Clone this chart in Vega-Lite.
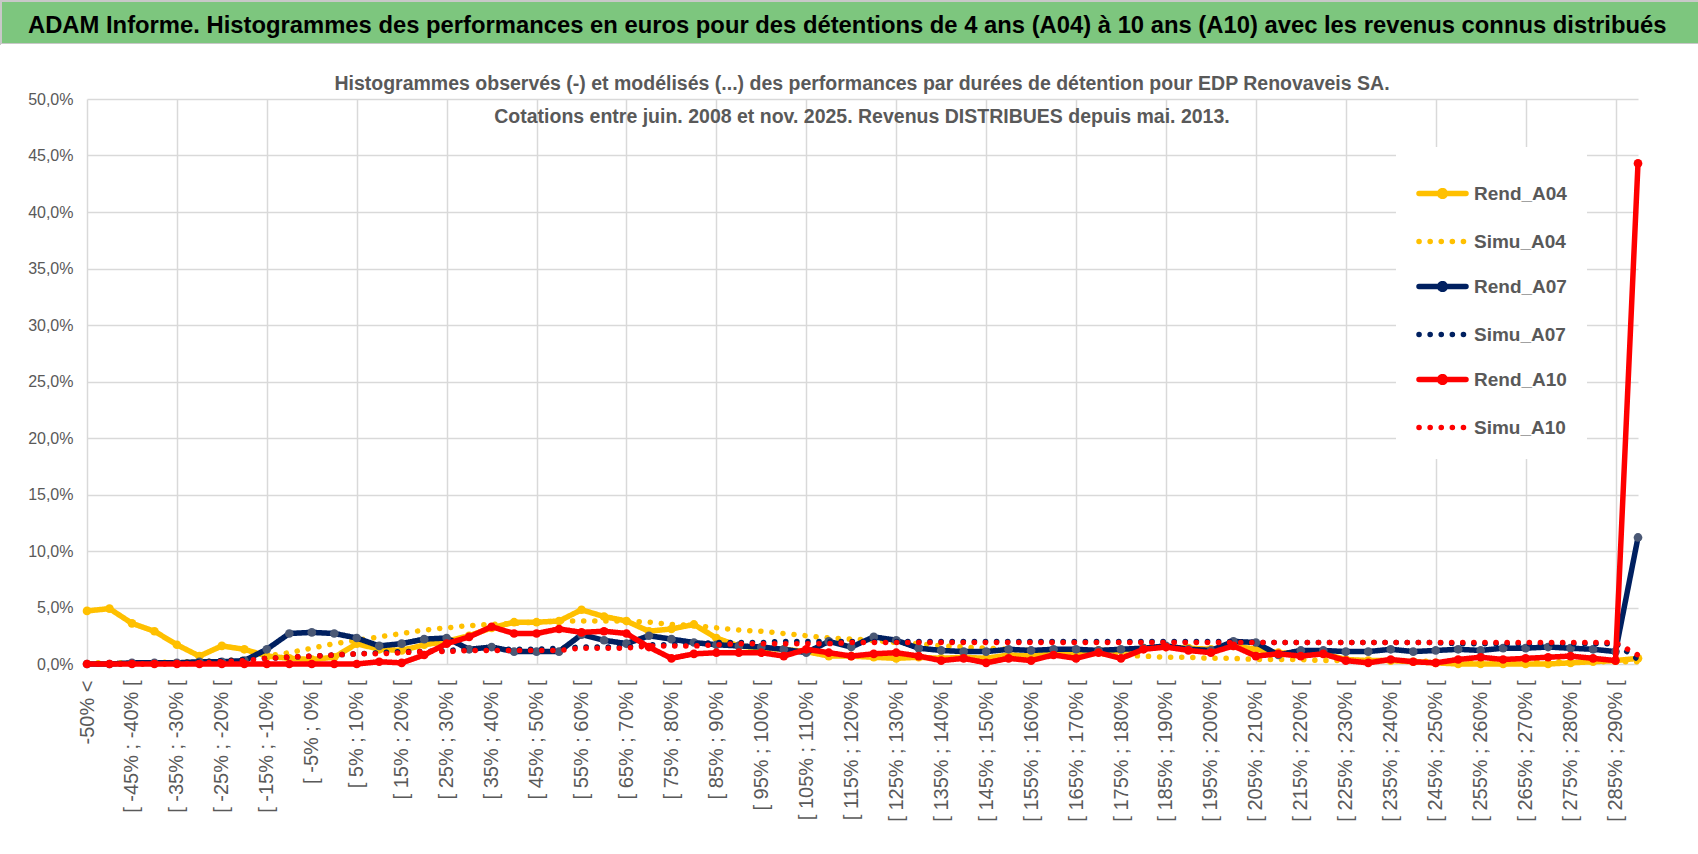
{
  "$schema": "https://vega.github.io/schema/vega-lite/v6.json",
  "background": "white",
  "padding": {"left": 0, "top": 0, "right": 0, "bottom": 49},
  "spacing": 0,
  "bounds": "flush",
  "vconcat": [
    {
      "width": 1698,
      "height": 43,
      "view": {"fill": "#7DC67E", "stroke": "#C8C8C8", "strokeWidth": 2},
      "title": {
        "text": "ADAM Informe. Histogrammes des performances en euros pour des détentions de 4 ans (A04) à 10 ans (A10) avec les revenus connus distribués",
        "anchor": "start", "frame": "group", "dx": 27, "offset": -37,
        "fontSize": 23.8, "fontWeight": "bold", "color": "#000000"
      },
      "data": {"values": []},
      "mark": "rect"
    },
    {
      "width": 1698,
      "height": 675,
      "view": {"fill": "white", "stroke": null},
      "title": {
        "text": [
          "Histogrammes observés (-) et modélisés (...) des performances par durées de détention pour EDP Renovaveis SA.",
          "Cotations entre juin. 2008 et nov. 2025. Revenus DISTRIBUES depuis mai. 2013."
        ],
        "anchor": "middle", "frame": "group", "offset": -83, "dx": 12,
        "fontSize": 19.5, "fontWeight": "bold", "color": "#595959", "lineHeight": 33
      },
      "data": {
        "values": [
          {"c":"-50% <","s":"Rend_A04","v":4.7},{"c":"[ -50% ; -45% [","s":"Rend_A04","v":4.9},{"c":"[ -45% ; -40% [","s":"Rend_A04","v":3.6},{"c":"[ -40% ; -35% [","s":"Rend_A04","v":2.9},{"c":"[ -35% ; -30% [","s":"Rend_A04","v":1.7},{"c":"[ -30% ; -25% [","s":"Rend_A04","v":0.7},{"c":"[ -25% ; -20% [","s":"Rend_A04","v":1.6},{"c":"[ -20% ; -15% [","s":"Rend_A04","v":1.3},{"c":"[ -15% ; -10% [","s":"Rend_A04","v":0.7},{"c":"[ -10% ; -5% [","s":"Rend_A04","v":0.5},
          {"c":"[ -5% ; 0% [","s":"Rend_A04","v":0.4},{"c":"[ 0% ; 5% [","s":"Rend_A04","v":0.6},{"c":"[ 5% ; 10% [","s":"Rend_A04","v":1.8},{"c":"[ 10% ; 15% [","s":"Rend_A04","v":1.3},{"c":"[ 15% ; 20% [","s":"Rend_A04","v":1.2},{"c":"[ 20% ; 25% [","s":"Rend_A04","v":1.7},{"c":"[ 25% ; 30% [","s":"Rend_A04","v":2.0},{"c":"[ 30% ; 35% [","s":"Rend_A04","v":2.5},{"c":"[ 35% ; 40% [","s":"Rend_A04","v":3.2},{"c":"[ 40% ; 45% [","s":"Rend_A04","v":3.7},
          {"c":"[ 45% ; 50% [","s":"Rend_A04","v":3.7},{"c":"[ 50% ; 55% [","s":"Rend_A04","v":3.8},{"c":"[ 55% ; 60% [","s":"Rend_A04","v":4.8},{"c":"[ 60% ; 65% [","s":"Rend_A04","v":4.2},{"c":"[ 65% ; 70% [","s":"Rend_A04","v":3.8},{"c":"[ 70% ; 75% [","s":"Rend_A04","v":2.9},{"c":"[ 75% ; 80% [","s":"Rend_A04","v":3.1},{"c":"[ 80% ; 85% [","s":"Rend_A04","v":3.5},{"c":"[ 85% ; 90% [","s":"Rend_A04","v":2.3},{"c":"[ 90% ; 95% [","s":"Rend_A04","v":1.6},
          {"c":"[ 95% ; 100% [","s":"Rend_A04","v":1.4},{"c":"[ 100% ; 105% [","s":"Rend_A04","v":1.3},{"c":"[ 105% ; 110% [","s":"Rend_A04","v":1.1},{"c":"[ 110% ; 115% [","s":"Rend_A04","v":0.7},{"c":"[ 115% ; 120% [","s":"Rend_A04","v":0.7},{"c":"[ 120% ; 125% [","s":"Rend_A04","v":0.6},{"c":"[ 125% ; 130% [","s":"Rend_A04","v":0.5},{"c":"[ 130% ; 135% [","s":"Rend_A04","v":0.6},{"c":"[ 135% ; 140% [","s":"Rend_A04","v":0.5},{"c":"[ 140% ; 145% [","s":"Rend_A04","v":0.6},
          {"c":"[ 145% ; 150% [","s":"Rend_A04","v":0.5},{"c":"[ 150% ; 155% [","s":"Rend_A04","v":0.8},{"c":"[ 155% ; 160% [","s":"Rend_A04","v":0.7},{"c":"[ 160% ; 165% [","s":"Rend_A04","v":0.9},{"c":"[ 165% ; 170% [","s":"Rend_A04","v":1.0},{"c":"[ 170% ; 175% [","s":"Rend_A04","v":1.2},{"c":"[ 175% ; 180% [","s":"Rend_A04","v":1.2},{"c":"[ 180% ; 185% [","s":"Rend_A04","v":1.4},{"c":"[ 185% ; 190% [","s":"Rend_A04","v":1.5},{"c":"[ 190% ; 195% [","s":"Rend_A04","v":1.4},
          {"c":"[ 195% ; 200% [","s":"Rend_A04","v":1.3},{"c":"[ 200% ; 205% [","s":"Rend_A04","v":1.6},{"c":"[ 205% ; 210% [","s":"Rend_A04","v":1.3},{"c":"[ 210% ; 215% [","s":"Rend_A04","v":1.0},{"c":"[ 215% ; 220% [","s":"Rend_A04","v":0.9},{"c":"[ 220% ; 225% [","s":"Rend_A04","v":0.9},{"c":"[ 225% ; 230% [","s":"Rend_A04","v":0.4},{"c":"[ 230% ; 235% [","s":"Rend_A04","v":0.3},{"c":"[ 235% ; 240% [","s":"Rend_A04","v":0.3},{"c":"[ 240% ; 245% [","s":"Rend_A04","v":0.2},
          {"c":"[ 245% ; 250% [","s":"Rend_A04","v":0.1},{"c":"[ 250% ; 255% [","s":"Rend_A04","v":0.0},{"c":"[ 255% ; 260% [","s":"Rend_A04","v":0.0},{"c":"[ 260% ; 265% [","s":"Rend_A04","v":0.0},{"c":"[ 265% ; 270% [","s":"Rend_A04","v":0.0},{"c":"[ 270% ; 275% [","s":"Rend_A04","v":0.0},{"c":"[ 275% ; 280% [","s":"Rend_A04","v":0.1},{"c":"[ 280% ; 285% [","s":"Rend_A04","v":0.2},{"c":"[ 285% ; 290% [","s":"Rend_A04","v":0.3},{"c":"> 290%","s":"Rend_A04","v":0.5},

          {"c":"-50% <","s":"Simu_A04","v":0.1},{"c":"[ -50% ; -45% [","s":"Simu_A04","v":0.1},{"c":"[ -45% ; -40% [","s":"Simu_A04","v":0.1},{"c":"[ -40% ; -35% [","s":"Simu_A04","v":0.1},{"c":"[ -35% ; -30% [","s":"Simu_A04","v":0.2},{"c":"[ -30% ; -25% [","s":"Simu_A04","v":0.2},{"c":"[ -25% ; -20% [","s":"Simu_A04","v":0.3},{"c":"[ -20% ; -15% [","s":"Simu_A04","v":0.4},{"c":"[ -15% ; -10% [","s":"Simu_A04","v":0.7},{"c":"[ -10% ; -5% [","s":"Simu_A04","v":1.0},
          {"c":"[ -5% ; 0% [","s":"Simu_A04","v":1.4},{"c":"[ 0% ; 5% [","s":"Simu_A04","v":1.8},{"c":"[ 5% ; 10% [","s":"Simu_A04","v":2.1},{"c":"[ 10% ; 15% [","s":"Simu_A04","v":2.4},{"c":"[ 15% ; 20% [","s":"Simu_A04","v":2.7},{"c":"[ 20% ; 25% [","s":"Simu_A04","v":3.0},{"c":"[ 25% ; 30% [","s":"Simu_A04","v":3.2},{"c":"[ 30% ; 35% [","s":"Simu_A04","v":3.4},{"c":"[ 35% ; 40% [","s":"Simu_A04","v":3.5},{"c":"[ 40% ; 45% [","s":"Simu_A04","v":3.6},
          {"c":"[ 45% ; 50% [","s":"Simu_A04","v":3.7},{"c":"[ 50% ; 55% [","s":"Simu_A04","v":3.8},{"c":"[ 55% ; 60% [","s":"Simu_A04","v":3.8},{"c":"[ 60% ; 65% [","s":"Simu_A04","v":3.8},{"c":"[ 65% ; 70% [","s":"Simu_A04","v":3.8},{"c":"[ 70% ; 75% [","s":"Simu_A04","v":3.7},{"c":"[ 75% ; 80% [","s":"Simu_A04","v":3.5},{"c":"[ 80% ; 85% [","s":"Simu_A04","v":3.4},{"c":"[ 85% ; 90% [","s":"Simu_A04","v":3.2},{"c":"[ 90% ; 95% [","s":"Simu_A04","v":3.0},
          {"c":"[ 95% ; 100% [","s":"Simu_A04","v":2.9},{"c":"[ 100% ; 105% [","s":"Simu_A04","v":2.7},{"c":"[ 105% ; 110% [","s":"Simu_A04","v":2.5},{"c":"[ 110% ; 115% [","s":"Simu_A04","v":2.3},{"c":"[ 115% ; 120% [","s":"Simu_A04","v":2.2},{"c":"[ 120% ; 125% [","s":"Simu_A04","v":2.1},{"c":"[ 125% ; 130% [","s":"Simu_A04","v":1.9},{"c":"[ 130% ; 135% [","s":"Simu_A04","v":1.8},{"c":"[ 135% ; 140% [","s":"Simu_A04","v":1.6},{"c":"[ 140% ; 145% [","s":"Simu_A04","v":1.5},
          {"c":"[ 145% ; 150% [","s":"Simu_A04","v":1.4},{"c":"[ 150% ; 155% [","s":"Simu_A04","v":1.3},{"c":"[ 155% ; 160% [","s":"Simu_A04","v":1.2},{"c":"[ 160% ; 165% [","s":"Simu_A04","v":1.1},{"c":"[ 165% ; 170% [","s":"Simu_A04","v":1.0},{"c":"[ 170% ; 175% [","s":"Simu_A04","v":0.9},{"c":"[ 175% ; 180% [","s":"Simu_A04","v":0.8},{"c":"[ 180% ; 185% [","s":"Simu_A04","v":0.7},{"c":"[ 185% ; 190% [","s":"Simu_A04","v":0.6},{"c":"[ 190% ; 195% [","s":"Simu_A04","v":0.6},
          {"c":"[ 195% ; 200% [","s":"Simu_A04","v":0.5},{"c":"[ 200% ; 205% [","s":"Simu_A04","v":0.5},{"c":"[ 205% ; 210% [","s":"Simu_A04","v":0.4},{"c":"[ 210% ; 215% [","s":"Simu_A04","v":0.4},{"c":"[ 215% ; 220% [","s":"Simu_A04","v":0.4},{"c":"[ 220% ; 225% [","s":"Simu_A04","v":0.3},{"c":"[ 225% ; 230% [","s":"Simu_A04","v":0.3},{"c":"[ 230% ; 235% [","s":"Simu_A04","v":0.3},{"c":"[ 235% ; 240% [","s":"Simu_A04","v":0.3},{"c":"[ 240% ; 245% [","s":"Simu_A04","v":0.3},
          {"c":"[ 245% ; 250% [","s":"Simu_A04","v":0.2},{"c":"[ 250% ; 255% [","s":"Simu_A04","v":0.2},{"c":"[ 255% ; 260% [","s":"Simu_A04","v":0.2},{"c":"[ 260% ; 265% [","s":"Simu_A04","v":0.2},{"c":"[ 265% ; 270% [","s":"Simu_A04","v":0.2},{"c":"[ 270% ; 275% [","s":"Simu_A04","v":0.2},{"c":"[ 275% ; 280% [","s":"Simu_A04","v":0.2},{"c":"[ 280% ; 285% [","s":"Simu_A04","v":0.2},{"c":"[ 285% ; 290% [","s":"Simu_A04","v":0.2},{"c":"> 290%","s":"Simu_A04","v":0.2},

          {"c":"-50% <","s":"Rend_A07","v":0.0},{"c":"[ -50% ; -45% [","s":"Rend_A07","v":0.0},{"c":"[ -45% ; -40% [","s":"Rend_A07","v":0.1},{"c":"[ -40% ; -35% [","s":"Rend_A07","v":0.1},{"c":"[ -35% ; -30% [","s":"Rend_A07","v":0.1},{"c":"[ -30% ; -25% [","s":"Rend_A07","v":0.2},{"c":"[ -25% ; -20% [","s":"Rend_A07","v":0.2},{"c":"[ -20% ; -15% [","s":"Rend_A07","v":0.3},{"c":"[ -15% ; -10% [","s":"Rend_A07","v":1.3},{"c":"[ -10% ; -5% [","s":"Rend_A07","v":2.7},
          {"c":"[ -5% ; 0% [","s":"Rend_A07","v":2.8},{"c":"[ 0% ; 5% [","s":"Rend_A07","v":2.7},{"c":"[ 5% ; 10% [","s":"Rend_A07","v":2.3},{"c":"[ 10% ; 15% [","s":"Rend_A07","v":1.6},{"c":"[ 15% ; 20% [","s":"Rend_A07","v":1.8},{"c":"[ 20% ; 25% [","s":"Rend_A07","v":2.2},{"c":"[ 25% ; 30% [","s":"Rend_A07","v":2.3},{"c":"[ 30% ; 35% [","s":"Rend_A07","v":1.3},{"c":"[ 35% ; 40% [","s":"Rend_A07","v":1.5},{"c":"[ 40% ; 45% [","s":"Rend_A07","v":1.1},
          {"c":"[ 45% ; 50% [","s":"Rend_A07","v":1.1},{"c":"[ 50% ; 55% [","s":"Rend_A07","v":1.1},{"c":"[ 55% ; 60% [","s":"Rend_A07","v":2.6},{"c":"[ 60% ; 65% [","s":"Rend_A07","v":2.1},{"c":"[ 65% ; 70% [","s":"Rend_A07","v":1.8},{"c":"[ 70% ; 75% [","s":"Rend_A07","v":2.5},{"c":"[ 75% ; 80% [","s":"Rend_A07","v":2.2},{"c":"[ 80% ; 85% [","s":"Rend_A07","v":1.9},{"c":"[ 85% ; 90% [","s":"Rend_A07","v":1.7},{"c":"[ 90% ; 95% [","s":"Rend_A07","v":1.6},
          {"c":"[ 95% ; 100% [","s":"Rend_A07","v":1.5},{"c":"[ 100% ; 105% [","s":"Rend_A07","v":1.3},{"c":"[ 105% ; 110% [","s":"Rend_A07","v":1.0},{"c":"[ 110% ; 115% [","s":"Rend_A07","v":2.0},{"c":"[ 115% ; 120% [","s":"Rend_A07","v":1.5},{"c":"[ 120% ; 125% [","s":"Rend_A07","v":2.4},{"c":"[ 125% ; 130% [","s":"Rend_A07","v":2.1},{"c":"[ 130% ; 135% [","s":"Rend_A07","v":1.4},{"c":"[ 135% ; 140% [","s":"Rend_A07","v":1.2},{"c":"[ 140% ; 145% [","s":"Rend_A07","v":1.1},
          {"c":"[ 145% ; 150% [","s":"Rend_A07","v":1.1},{"c":"[ 150% ; 155% [","s":"Rend_A07","v":1.3},{"c":"[ 155% ; 160% [","s":"Rend_A07","v":1.2},{"c":"[ 160% ; 165% [","s":"Rend_A07","v":1.3},{"c":"[ 165% ; 170% [","s":"Rend_A07","v":1.3},{"c":"[ 170% ; 175% [","s":"Rend_A07","v":1.2},{"c":"[ 175% ; 180% [","s":"Rend_A07","v":1.3},{"c":"[ 180% ; 185% [","s":"Rend_A07","v":1.4},{"c":"[ 185% ; 190% [","s":"Rend_A07","v":1.6},{"c":"[ 190% ; 195% [","s":"Rend_A07","v":1.3},
          {"c":"[ 195% ; 200% [","s":"Rend_A07","v":1.2},{"c":"[ 200% ; 205% [","s":"Rend_A07","v":2.0},{"c":"[ 205% ; 210% [","s":"Rend_A07","v":1.9},{"c":"[ 210% ; 215% [","s":"Rend_A07","v":0.8},{"c":"[ 215% ; 220% [","s":"Rend_A07","v":1.2},{"c":"[ 220% ; 225% [","s":"Rend_A07","v":1.2},{"c":"[ 225% ; 230% [","s":"Rend_A07","v":1.1},{"c":"[ 230% ; 235% [","s":"Rend_A07","v":1.1},{"c":"[ 235% ; 240% [","s":"Rend_A07","v":1.3},{"c":"[ 240% ; 245% [","s":"Rend_A07","v":1.1},
          {"c":"[ 245% ; 250% [","s":"Rend_A07","v":1.2},{"c":"[ 250% ; 255% [","s":"Rend_A07","v":1.3},{"c":"[ 255% ; 260% [","s":"Rend_A07","v":1.2},{"c":"[ 260% ; 265% [","s":"Rend_A07","v":1.4},{"c":"[ 265% ; 270% [","s":"Rend_A07","v":1.4},{"c":"[ 270% ; 275% [","s":"Rend_A07","v":1.5},{"c":"[ 275% ; 280% [","s":"Rend_A07","v":1.4},{"c":"[ 280% ; 285% [","s":"Rend_A07","v":1.3},{"c":"[ 285% ; 290% [","s":"Rend_A07","v":1.1},{"c":"> 290%","s":"Rend_A07","v":11.2},

          {"c":"-50% <","s":"Simu_A07","v":0.0},{"c":"[ -50% ; -45% [","s":"Simu_A07","v":0.0},{"c":"[ -45% ; -40% [","s":"Simu_A07","v":0.0},{"c":"[ -40% ; -35% [","s":"Simu_A07","v":0.1},{"c":"[ -35% ; -30% [","s":"Simu_A07","v":0.1},{"c":"[ -30% ; -25% [","s":"Simu_A07","v":0.2},{"c":"[ -25% ; -20% [","s":"Simu_A07","v":0.3},{"c":"[ -20% ; -15% [","s":"Simu_A07","v":0.4},{"c":"[ -15% ; -10% [","s":"Simu_A07","v":0.5},{"c":"[ -10% ; -5% [","s":"Simu_A07","v":0.6},
          {"c":"[ -5% ; 0% [","s":"Simu_A07","v":0.7},{"c":"[ 0% ; 5% [","s":"Simu_A07","v":0.8},{"c":"[ 5% ; 10% [","s":"Simu_A07","v":0.9},{"c":"[ 10% ; 15% [","s":"Simu_A07","v":1.0},{"c":"[ 15% ; 20% [","s":"Simu_A07","v":1.1},{"c":"[ 20% ; 25% [","s":"Simu_A07","v":1.1},{"c":"[ 25% ; 30% [","s":"Simu_A07","v":1.2},{"c":"[ 30% ; 35% [","s":"Simu_A07","v":1.3},{"c":"[ 35% ; 40% [","s":"Simu_A07","v":1.3},{"c":"[ 40% ; 45% [","s":"Simu_A07","v":1.3},
          {"c":"[ 45% ; 50% [","s":"Simu_A07","v":1.3},{"c":"[ 50% ; 55% [","s":"Simu_A07","v":1.4},{"c":"[ 55% ; 60% [","s":"Simu_A07","v":1.5},{"c":"[ 60% ; 65% [","s":"Simu_A07","v":1.5},{"c":"[ 65% ; 70% [","s":"Simu_A07","v":1.5},{"c":"[ 70% ; 75% [","s":"Simu_A07","v":1.7},{"c":"[ 75% ; 80% [","s":"Simu_A07","v":1.7},{"c":"[ 80% ; 85% [","s":"Simu_A07","v":1.8},{"c":"[ 85% ; 90% [","s":"Simu_A07","v":1.9},{"c":"[ 90% ; 95% [","s":"Simu_A07","v":1.9},
          {"c":"[ 95% ; 100% [","s":"Simu_A07","v":1.9},{"c":"[ 100% ; 105% [","s":"Simu_A07","v":2.0},{"c":"[ 105% ; 110% [","s":"Simu_A07","v":2.0},{"c":"[ 110% ; 115% [","s":"Simu_A07","v":2.0},{"c":"[ 115% ; 120% [","s":"Simu_A07","v":2.0},{"c":"[ 120% ; 125% [","s":"Simu_A07","v":2.0},{"c":"[ 125% ; 130% [","s":"Simu_A07","v":2.0},{"c":"[ 130% ; 135% [","s":"Simu_A07","v":2.0},{"c":"[ 135% ; 140% [","s":"Simu_A07","v":2.0},{"c":"[ 140% ; 145% [","s":"Simu_A07","v":2.0},
          {"c":"[ 145% ; 150% [","s":"Simu_A07","v":2.0},{"c":"[ 150% ; 155% [","s":"Simu_A07","v":2.0},{"c":"[ 155% ; 160% [","s":"Simu_A07","v":2.0},{"c":"[ 160% ; 165% [","s":"Simu_A07","v":2.0},{"c":"[ 165% ; 170% [","s":"Simu_A07","v":2.0},{"c":"[ 170% ; 175% [","s":"Simu_A07","v":2.0},{"c":"[ 175% ; 180% [","s":"Simu_A07","v":2.0},{"c":"[ 180% ; 185% [","s":"Simu_A07","v":2.0},{"c":"[ 185% ; 190% [","s":"Simu_A07","v":2.0},{"c":"[ 190% ; 195% [","s":"Simu_A07","v":2.0},
          {"c":"[ 195% ; 200% [","s":"Simu_A07","v":2.0},{"c":"[ 200% ; 205% [","s":"Simu_A07","v":2.0},{"c":"[ 205% ; 210% [","s":"Simu_A07","v":1.9},{"c":"[ 210% ; 215% [","s":"Simu_A07","v":1.9},{"c":"[ 215% ; 220% [","s":"Simu_A07","v":1.9},{"c":"[ 220% ; 225% [","s":"Simu_A07","v":1.9},{"c":"[ 225% ; 230% [","s":"Simu_A07","v":1.9},{"c":"[ 230% ; 235% [","s":"Simu_A07","v":1.9},{"c":"[ 235% ; 240% [","s":"Simu_A07","v":1.9},{"c":"[ 240% ; 245% [","s":"Simu_A07","v":1.9},
          {"c":"[ 245% ; 250% [","s":"Simu_A07","v":1.9},{"c":"[ 250% ; 255% [","s":"Simu_A07","v":1.8},{"c":"[ 255% ; 260% [","s":"Simu_A07","v":1.8},{"c":"[ 260% ; 265% [","s":"Simu_A07","v":1.8},{"c":"[ 265% ; 270% [","s":"Simu_A07","v":1.8},{"c":"[ 270% ; 275% [","s":"Simu_A07","v":1.8},{"c":"[ 275% ; 280% [","s":"Simu_A07","v":1.8},{"c":"[ 280% ; 285% [","s":"Simu_A07","v":1.8},{"c":"[ 285% ; 290% [","s":"Simu_A07","v":1.8},{"c":"> 290%","s":"Simu_A07","v":0.4},

          {"c":"-50% <","s":"Rend_A10","v":0.0},{"c":"[ -50% ; -45% [","s":"Rend_A10","v":0.0},{"c":"[ -45% ; -40% [","s":"Rend_A10","v":0.0},{"c":"[ -40% ; -35% [","s":"Rend_A10","v":0.0},{"c":"[ -35% ; -30% [","s":"Rend_A10","v":0.0},{"c":"[ -30% ; -25% [","s":"Rend_A10","v":0.0},{"c":"[ -25% ; -20% [","s":"Rend_A10","v":0.0},{"c":"[ -20% ; -15% [","s":"Rend_A10","v":0.0},{"c":"[ -15% ; -10% [","s":"Rend_A10","v":0.0},{"c":"[ -10% ; -5% [","s":"Rend_A10","v":0.0},
          {"c":"[ -5% ; 0% [","s":"Rend_A10","v":0.0},{"c":"[ 0% ; 5% [","s":"Rend_A10","v":0.0},{"c":"[ 5% ; 10% [","s":"Rend_A10","v":0.0},{"c":"[ 10% ; 15% [","s":"Rend_A10","v":0.2},{"c":"[ 15% ; 20% [","s":"Rend_A10","v":0.1},{"c":"[ 20% ; 25% [","s":"Rend_A10","v":0.8},{"c":"[ 25% ; 30% [","s":"Rend_A10","v":1.8},{"c":"[ 30% ; 35% [","s":"Rend_A10","v":2.4},{"c":"[ 35% ; 40% [","s":"Rend_A10","v":3.3},{"c":"[ 40% ; 45% [","s":"Rend_A10","v":2.7},
          {"c":"[ 45% ; 50% [","s":"Rend_A10","v":2.7},{"c":"[ 50% ; 55% [","s":"Rend_A10","v":3.1},{"c":"[ 55% ; 60% [","s":"Rend_A10","v":2.8},{"c":"[ 60% ; 65% [","s":"Rend_A10","v":2.9},{"c":"[ 65% ; 70% [","s":"Rend_A10","v":2.7},{"c":"[ 70% ; 75% [","s":"Rend_A10","v":1.5},{"c":"[ 75% ; 80% [","s":"Rend_A10","v":0.5},{"c":"[ 80% ; 85% [","s":"Rend_A10","v":0.9},{"c":"[ 85% ; 90% [","s":"Rend_A10","v":1.0},{"c":"[ 90% ; 95% [","s":"Rend_A10","v":1.0},
          {"c":"[ 95% ; 100% [","s":"Rend_A10","v":1.0},{"c":"[ 100% ; 105% [","s":"Rend_A10","v":0.7},{"c":"[ 105% ; 110% [","s":"Rend_A10","v":1.3},{"c":"[ 110% ; 115% [","s":"Rend_A10","v":1.0},{"c":"[ 115% ; 120% [","s":"Rend_A10","v":0.7},{"c":"[ 120% ; 125% [","s":"Rend_A10","v":0.9},{"c":"[ 125% ; 130% [","s":"Rend_A10","v":1.0},{"c":"[ 130% ; 135% [","s":"Rend_A10","v":0.7},{"c":"[ 135% ; 140% [","s":"Rend_A10","v":0.3},{"c":"[ 140% ; 145% [","s":"Rend_A10","v":0.5},
          {"c":"[ 145% ; 150% [","s":"Rend_A10","v":0.1},{"c":"[ 150% ; 155% [","s":"Rend_A10","v":0.5},{"c":"[ 155% ; 160% [","s":"Rend_A10","v":0.3},{"c":"[ 160% ; 165% [","s":"Rend_A10","v":0.8},{"c":"[ 165% ; 170% [","s":"Rend_A10","v":0.5},{"c":"[ 170% ; 175% [","s":"Rend_A10","v":1.0},{"c":"[ 175% ; 180% [","s":"Rend_A10","v":0.5},{"c":"[ 180% ; 185% [","s":"Rend_A10","v":1.3},{"c":"[ 185% ; 190% [","s":"Rend_A10","v":1.5},{"c":"[ 190% ; 195% [","s":"Rend_A10","v":1.2},
          {"c":"[ 195% ; 200% [","s":"Rend_A10","v":1.0},{"c":"[ 200% ; 205% [","s":"Rend_A10","v":1.6},{"c":"[ 205% ; 210% [","s":"Rend_A10","v":0.7},{"c":"[ 210% ; 215% [","s":"Rend_A10","v":0.9},{"c":"[ 215% ; 220% [","s":"Rend_A10","v":0.7},{"c":"[ 220% ; 225% [","s":"Rend_A10","v":0.9},{"c":"[ 225% ; 230% [","s":"Rend_A10","v":0.3},{"c":"[ 230% ; 235% [","s":"Rend_A10","v":0.1},{"c":"[ 235% ; 240% [","s":"Rend_A10","v":0.4},{"c":"[ 240% ; 245% [","s":"Rend_A10","v":0.2},
          {"c":"[ 245% ; 250% [","s":"Rend_A10","v":0.1},{"c":"[ 250% ; 255% [","s":"Rend_A10","v":0.4},{"c":"[ 255% ; 260% [","s":"Rend_A10","v":0.6},{"c":"[ 260% ; 265% [","s":"Rend_A10","v":0.4},{"c":"[ 265% ; 270% [","s":"Rend_A10","v":0.5},{"c":"[ 270% ; 275% [","s":"Rend_A10","v":0.6},{"c":"[ 275% ; 280% [","s":"Rend_A10","v":0.7},{"c":"[ 280% ; 285% [","s":"Rend_A10","v":0.5},{"c":"[ 285% ; 290% [","s":"Rend_A10","v":0.3},{"c":"> 290%","s":"Rend_A10","v":44.3},

          {"c":"-50% <","s":"Simu_A10","v":0.0},{"c":"[ -50% ; -45% [","s":"Simu_A10","v":0.0},{"c":"[ -45% ; -40% [","s":"Simu_A10","v":0.0},{"c":"[ -40% ; -35% [","s":"Simu_A10","v":0.0},{"c":"[ -35% ; -30% [","s":"Simu_A10","v":0.0},{"c":"[ -30% ; -25% [","s":"Simu_A10","v":0.1},{"c":"[ -25% ; -20% [","s":"Simu_A10","v":0.2},{"c":"[ -20% ; -15% [","s":"Simu_A10","v":0.3},{"c":"[ -15% ; -10% [","s":"Simu_A10","v":0.5},{"c":"[ -10% ; -5% [","s":"Simu_A10","v":0.6},
          {"c":"[ -5% ; 0% [","s":"Simu_A10","v":0.7},{"c":"[ 0% ; 5% [","s":"Simu_A10","v":0.8},{"c":"[ 5% ; 10% [","s":"Simu_A10","v":0.9},{"c":"[ 10% ; 15% [","s":"Simu_A10","v":0.9},{"c":"[ 15% ; 20% [","s":"Simu_A10","v":1.0},{"c":"[ 20% ; 25% [","s":"Simu_A10","v":1.1},{"c":"[ 25% ; 30% [","s":"Simu_A10","v":1.1},{"c":"[ 30% ; 35% [","s":"Simu_A10","v":1.2},{"c":"[ 35% ; 40% [","s":"Simu_A10","v":1.2},{"c":"[ 40% ; 45% [","s":"Simu_A10","v":1.2},
          {"c":"[ 45% ; 50% [","s":"Simu_A10","v":1.2},{"c":"[ 50% ; 55% [","s":"Simu_A10","v":1.2},{"c":"[ 55% ; 60% [","s":"Simu_A10","v":1.4},{"c":"[ 60% ; 65% [","s":"Simu_A10","v":1.4},{"c":"[ 65% ; 70% [","s":"Simu_A10","v":1.4},{"c":"[ 70% ; 75% [","s":"Simu_A10","v":1.6},{"c":"[ 75% ; 80% [","s":"Simu_A10","v":1.6},{"c":"[ 80% ; 85% [","s":"Simu_A10","v":1.6},{"c":"[ 85% ; 90% [","s":"Simu_A10","v":1.7},{"c":"[ 90% ; 95% [","s":"Simu_A10","v":1.8},
          {"c":"[ 95% ; 100% [","s":"Simu_A10","v":1.8},{"c":"[ 100% ; 105% [","s":"Simu_A10","v":1.8},{"c":"[ 105% ; 110% [","s":"Simu_A10","v":1.8},{"c":"[ 110% ; 115% [","s":"Simu_A10","v":1.8},{"c":"[ 115% ; 120% [","s":"Simu_A10","v":1.9},{"c":"[ 120% ; 125% [","s":"Simu_A10","v":1.9},{"c":"[ 125% ; 130% [","s":"Simu_A10","v":1.9},{"c":"[ 130% ; 135% [","s":"Simu_A10","v":1.9},{"c":"[ 135% ; 140% [","s":"Simu_A10","v":1.9},{"c":"[ 140% ; 145% [","s":"Simu_A10","v":1.9},
          {"c":"[ 145% ; 150% [","s":"Simu_A10","v":1.9},{"c":"[ 150% ; 155% [","s":"Simu_A10","v":1.9},{"c":"[ 155% ; 160% [","s":"Simu_A10","v":1.9},{"c":"[ 160% ; 165% [","s":"Simu_A10","v":1.9},{"c":"[ 165% ; 170% [","s":"Simu_A10","v":1.9},{"c":"[ 170% ; 175% [","s":"Simu_A10","v":1.9},{"c":"[ 175% ; 180% [","s":"Simu_A10","v":1.9},{"c":"[ 180% ; 185% [","s":"Simu_A10","v":1.9},{"c":"[ 185% ; 190% [","s":"Simu_A10","v":1.9},{"c":"[ 190% ; 195% [","s":"Simu_A10","v":1.9},
          {"c":"[ 195% ; 200% [","s":"Simu_A10","v":1.9},{"c":"[ 200% ; 205% [","s":"Simu_A10","v":1.9},{"c":"[ 205% ; 210% [","s":"Simu_A10","v":1.9},{"c":"[ 210% ; 215% [","s":"Simu_A10","v":1.9},{"c":"[ 215% ; 220% [","s":"Simu_A10","v":1.9},{"c":"[ 220% ; 225% [","s":"Simu_A10","v":1.9},{"c":"[ 225% ; 230% [","s":"Simu_A10","v":1.9},{"c":"[ 230% ; 235% [","s":"Simu_A10","v":1.9},{"c":"[ 235% ; 240% [","s":"Simu_A10","v":1.9},{"c":"[ 240% ; 245% [","s":"Simu_A10","v":1.9},
          {"c":"[ 245% ; 250% [","s":"Simu_A10","v":1.9},{"c":"[ 250% ; 255% [","s":"Simu_A10","v":1.9},{"c":"[ 255% ; 260% [","s":"Simu_A10","v":1.9},{"c":"[ 260% ; 265% [","s":"Simu_A10","v":1.9},{"c":"[ 265% ; 270% [","s":"Simu_A10","v":1.9},{"c":"[ 270% ; 275% [","s":"Simu_A10","v":1.9},{"c":"[ 275% ; 280% [","s":"Simu_A10","v":1.9},{"c":"[ 280% ; 285% [","s":"Simu_A10","v":1.9},{"c":"[ 285% ; 290% [","s":"Simu_A10","v":1.9},{"c":"> 290%","s":"Simu_A10","v":0.8}
        ]
      },
      "encoding": {
        "x": {
          "field": "c", "type": "ordinal", "sort": null,
          "scale": {"type": "point", "range": [86, 1637], "padding": 0},
          "axis": {
            "title": null, "orient": "bottom", "offset": -55,
            "labelAngle": -90, "labelPadding": 16, "labelFontSize": 20, "labelLimit": 400,
            "labelOverlap": false,
            "labelExpr": "round(datum.index * 69) % 2 === 0 ? datum.label : ''",
            "grid": true,
            "gridOpacity": {"condition": {"test": "round(datum.index * 69) % 4 === 0", "value": 1}, "value": 0}
          }
        },
        "y": {
          "field": "v", "type": "quantitative",
          "scale": {"domain": [0, 50], "range": [620, 55], "nice": false},
          "axis": {
            "title": null, "offset": -86, "values": [0, 5, 10, 15, 20, 25, 30, 35, 40, 45, 50],
            "labelPadding": 14, "labelFontSize": 16,
            "labelExpr": "replace(format(datum.value, '.1f'), '.', ',') + '%'",
            "grid": true
          }
        }
      },
      "layer": [
        {
          "transform": [{"filter": "datum.s === 'Rend_A04'"}],
          "mark": {"type": "line", "strokeWidth": 5.5, "strokeCap": "round", "strokeJoin": "round"},
          "encoding": {
            "color": {
              "field": "s", "type": "nominal",
              "scale": {
                "domain": ["Rend_A04", "Simu_A04", "Rend_A07", "Simu_A07", "Rend_A10", "Simu_A10"],
                "range": ["#FFC000", "#FFC000", "#002060", "#002060", "#FF0000", "#FF0000"]
              },
              "legend": {
                "title": null, "orient": "none", "legendX": 1395, "legendY": 146,
                "symbolType": "stroke", "symbolSize": 2209, "symbolStrokeWidth": 5.5,
                "labelFontSize": 19, "labelFontWeight": "bold", "labelColor": "#595959",
                "labelOffset": 5, "rowPadding": 7, "padding": 20, "fillColor": "white",
                "encode": {
                  "symbols": {
                    "update": {
                      "strokeCap": {"value": "round"},
                      "shape": {"signal": "indexof(datum.value, 'Rend') === 0 ? 'M-1,0H1M0.12,0A0.12,0.12 0 1 1 -0.12,0A0.12,0.12 0 1 1 0.12,0' : 'stroke'"}
                    }
                  }
                }
              }
            },
            "strokeDash": {
              "field": "s", "type": "nominal",
              "scale": {
                "domain": ["Rend_A04", "Simu_A04", "Rend_A07", "Simu_A07", "Rend_A10", "Simu_A10"],
                "range": [[1, 0], [0.1, 11], [1, 0], [0.1, 11], [1, 0], [0.1, 11]]
              }
            }
          }
        },
        {
          "transform": [{"filter": "datum.s === 'Rend_A04'"}],
          "mark": {"type": "circle", "size": 75, "opacity": 1},
          "encoding": {"color": {"value": "#FFC000"}}
        },
        {
          "transform": [{"filter": "datum.s === 'Simu_A04'"}],
          "mark": {"type": "line", "strokeWidth": 5.5, "strokeCap": "round"},
          "encoding": {"color": {"field": "s", "type": "nominal"}, "strokeDash": {"field": "s", "type": "nominal"}}
        },
        {
          "transform": [{"filter": "datum.s === 'Rend_A07'"}],
          "mark": {"type": "line", "strokeWidth": 5.5, "strokeCap": "round", "strokeJoin": "round"},
          "encoding": {"color": {"field": "s", "type": "nominal"}, "strokeDash": {"field": "s", "type": "nominal"}}
        },
        {
          "transform": [{"filter": "datum.s === 'Rend_A07'"}],
          "mark": {"type": "circle", "size": 75, "opacity": 1},
          "encoding": {"color": {"value": "#4A5875"}}
        },
        {
          "transform": [{"filter": "datum.s === 'Simu_A07'"}],
          "mark": {"type": "line", "strokeWidth": 5.5, "strokeCap": "round"},
          "encoding": {"color": {"field": "s", "type": "nominal"}, "strokeDash": {"field": "s", "type": "nominal"}}
        },
        {
          "transform": [{"filter": "datum.s === 'Rend_A10'"}],
          "mark": {"type": "line", "strokeWidth": 5.5, "strokeCap": "round", "strokeJoin": "round"},
          "encoding": {"color": {"field": "s", "type": "nominal"}, "strokeDash": {"field": "s", "type": "nominal"}}
        },
        {
          "transform": [{"filter": "datum.s === 'Rend_A10'"}],
          "mark": {"type": "circle", "size": 75, "opacity": 1},
          "encoding": {"color": {"value": "#FF0000"}}
        },
        {
          "transform": [{"filter": "datum.s === 'Simu_A10'"}],
          "mark": {"type": "line", "strokeWidth": 5.5, "strokeCap": "round"},
          "encoding": {"color": {"field": "s", "type": "nominal"}, "strokeDash": {"field": "s", "type": "nominal"}}
        }
      ]
    }
  ],
  "config": {
    "font": "Liberation Sans, Arial, sans-serif",
    "axis": {
      "domain": false, "ticks": false,
      "gridColor": "#D9D9D9", "gridWidth": 1.5,
      "labelColor": "#595959"
    }
  }
}
